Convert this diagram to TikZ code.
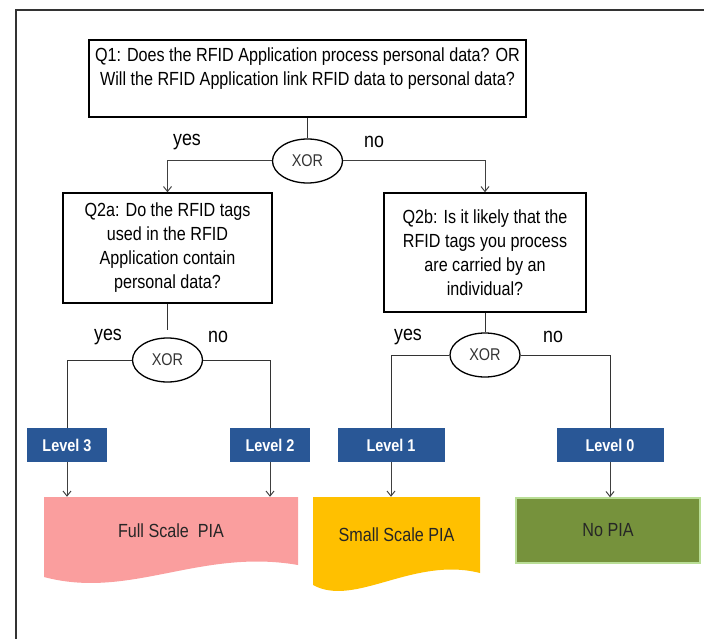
\documentclass[tikz,border=0pt]{standalone}
\usepackage{fontspec}
\setmainfont{Liberation Sans}
\newfontfamily\narrowfont[FakeStretch=0.85]{Liberation Sans}
\usetikzlibrary{shapes.geometric,arrows.meta,calc,positioning}
\definecolor{levelblue}{RGB}{41,87,150}
\definecolor{pinkpia}{RGB}{250,158,158}
\definecolor{yellowpia}{RGB}{255,192,0}
\definecolor{greenpia}{RGB}{118,146,60}
\definecolor{greenrim}{RGB}{185,222,150}

\begin{document}
\begin{tikzpicture}[x=1pt, y=-1pt,
    qnode/.style={rectangle, draw, line width=1.4pt, align=center, inner sep=0pt,
        font=\narrowfont\fontsize{19}{24}\selectfont},
    xornode/.style={ellipse, draw, line width=1.3pt, minimum width=70pt, minimum height=44pt,
        inner sep=0pt, text=black!80, font=\narrowfont\fontsize{17}{20}\selectfont},
    levelnode/.style={rectangle, fill=levelblue, text=white, minimum height=34pt, inner sep=0pt,
        font=\narrowfont\bfseries\fontsize{17}{20}\selectfont},
    outnode/.style={rectangle, inner sep=0pt, text=black!85,
        font=\narrowfont\fontsize{19}{22}\selectfont},
    anslabel/.style={inner sep=0pt, font=\narrowfont\fontsize{21}{24}\selectfont},
    link/.style={line width=1pt, draw=black!80},
    ptr/.style={-{Straight Barb[length=5pt,width=8pt]}, line width=1pt, draw=black!75}
]
    \useasboundingbox (0,0) rectangle (704,639);
    \draw[line width=1.5pt, black!80] (16,639) -- (16,10) -- (704,10);

    % Q1
    \node[qnode, minimum width=437pt, minimum height=77pt] (q1) at (307.5,78.5)
        {Q1: Does the RFID Application process personal data? OR\\Will the RFID Application link RFID data to personal data?\\ \mbox{}};
    \node[xornode] (xor1) at (307.5,161) {XOR};
    \node[anslabel] (yes1) at (187,142) {yes};
    \node[anslabel] (no1) at (374,142) {no};
    \draw[link] (q1.south) -- (xor1.north);

    % Q2a / Q2b
    \node[qnode, minimum width=209pt, minimum height=110pt] (q2a) at (167.5,248)
        {Q2a: Do the RFID tags\\used in the RFID\\Application contain\\personal data?};
    \node[qnode, minimum width=202pt, minimum height=119pt] (q2b) at (485,252.5)
        {Q2b: Is it likely that the\\RFID tags you process\\are carried by an\\individual?};
    \draw[ptr] (xor1.west) -| (q2a.north);
    \draw[ptr] (xor1.east) -| (q2b.north);

    % Q2a branch
    \node[xornode] (xor2a) at (167.5,360) {XOR};
    \node[anslabel] (yes2a) at (108,337) {yes};
    \node[anslabel] (no2a) at (218,337) {no};
    \draw[link] (q2a.south) -- ($(xor2a.north)+(0,-7)$);

    % Q2b branch
    \node[xornode] (xor2b) at (485,355) {XOR};
    \node[anslabel] (yes2b) at (408,337) {yes};
    \node[anslabel] (no2b) at (553,337) {no};
    \draw[link] (q2b.south) -- (xor2b.north);

    % Levels
    \node[levelnode, minimum width=80pt] (lvl3) at (67,445) {Level 3};
    \node[levelnode, minimum width=80pt] (lvl2) at (270,445) {Level 2};
    \node[levelnode, minimum width=107pt] (lvl1) at (391,445) {Level 1};
    \node[levelnode, minimum width=107pt] (lvl0) at (610,445) {Level 0};
    \draw[link] (xor2a.west) -| (lvl3.north);
    \draw[link] (xor2a.east) -| (lvl2.north);
    \draw[link] (xor2b.west) -| (lvl1.north);
    \draw[link] (xor2b.east) -| (lvl0.north);

    % Outcomes
    \fill[pinkpia] (44,497) -- (298,497) -- (298,565) .. controls (200,548) and (130,600) .. (44,577) -- cycle;
    \node[outnode, minimum width=254pt, minimum height=68pt] (full) at (171,531) {Full Scale\ \ PIA};
    \fill[yellowpia] (313,497) -- (480,497) -- (480,573) .. controls (413,556) and (355,608) .. (313,585) -- cycle;
    \node[outnode, minimum width=167pt, minimum height=76pt] (small) at (396.5,535) {Small Scale PIA};
    \node[outnode, fill=greenpia, draw=greenrim, line width=1.5pt, minimum width=184pt,
        minimum height=65pt] (nopia) at (608,530.5) {No PIA};
    \draw[ptr] (lvl3.south) -- (lvl3.south |- full.north);
    \draw[ptr] (lvl2.south) -- (lvl2.south |- full.north);
    \draw[ptr] (lvl1.south) -- (lvl1.south |- small.north);
    \draw[ptr] (lvl0.south) -- (lvl0.south |- nopia.north);
\end{tikzpicture}
\end{document}
